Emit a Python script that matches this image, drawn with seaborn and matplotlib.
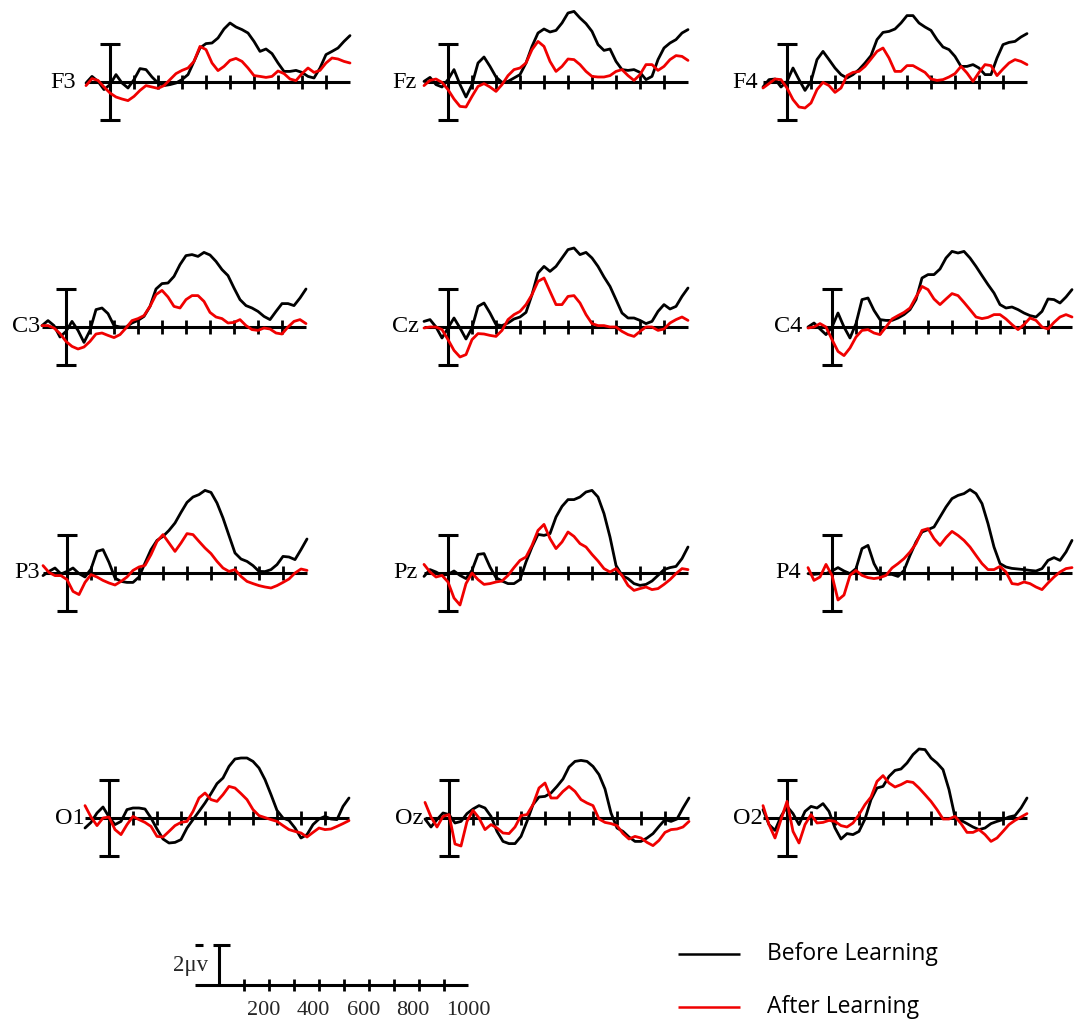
import numpy as np
import pandas as pd
import matplotlib
matplotlib.use("Agg")
import matplotlib.pyplot as plt
import seaborn as sns

# ERP grand averages, uV, sampled every 25 ms from -100 to 1000 ms
times = np.arange(-100, 1001, 25)

f3_before = [-0.05, 0.28, 0.03, -0.38, -0.13, 0.37, -0.05, -0.3, 0.12, 0.67, 0.62, 0.25, -0.05, -0.18, -0.13, -0.05, 0.12, 0.37, 1.03, 1.7, 1.92, 1.95, 2.2, 2.65, 2.95, 2.75, 2.62, 2.45, 2.03, 1.53, 1.65, 1.42, 0.95, 0.53, 0.53, 0.58, 0.48, 0.28, 0.2, 0.7, 1.37, 1.53, 1.7, 2.03, 2.32]
f3_after = [-0.18, 0.17, 0.08, -0.25, -0.55, -0.75, -0.85, -0.93, -0.72, -0.42, -0.18, -0.25, -0.32, -0.18, 0.12, 0.42, 0.58, 0.7, 1.03, 1.78, 1.62, 0.95, 0.57, 0.78, 1.08, 1.18, 1.03, 0.7, 0.32, 0.28, 0.23, 0.28, 0.55, 0.42, 0.15, 0.07, 0.42, 0.7, 0.48, 0.58, 0.95, 1.2, 1.15, 1.03, 0.95]
fz_before = [0.03, 0.23, -0.13, -0.25, 0.12, 0.62, -0.13, -0.75, -0.13, 0.95, 1.25, 0.78, 0.25, -0.02, 0.03, 0.2, 0.37, 0.95, 1.78, 2.45, 2.65, 2.5, 2.58, 2.95, 3.45, 3.53, 3.2, 2.92, 2.53, 1.87, 1.58, 1.65, 1.03, 0.62, 0.58, 0.62, 0.48, 0.12, 0.28, 1.12, 1.7, 1.95, 2.12, 2.45, 2.62]
fz_after = [-0.18, 0.08, 0.15, -0.02, -0.38, -0.85, -1.22, -1.25, -0.72, -0.22, -0.08, -0.25, -0.47, -0.13, 0.32, 0.62, 0.7, 0.95, 1.62, 2.03, 1.78, 1.03, 0.53, 0.78, 1.15, 1.12, 0.87, 0.53, 0.28, 0.25, 0.25, 0.32, 0.53, 0.62, 0.32, 0.08, 0.37, 0.87, 0.87, 0.58, 0.78, 1.12, 1.32, 1.28, 1.08]
f4_before = [-0.25, 0.12, 0.15, -0.25, 0.03, 0.7, 0.12, -0.42, 0.03, 1.12, 1.53, 1.12, 0.7, 0.37, 0.2, 0.37, 0.62, 0.95, 1.32, 2.12, 2.48, 2.53, 2.65, 2.95, 3.32, 3.32, 2.95, 2.75, 2.58, 2.12, 1.75, 1.62, 1.28, 0.78, 0.78, 0.87, 0.7, 0.37, 0.37, 1.2, 1.87, 1.98, 2.03, 2.25, 2.42]
f4_after = [-0.3, -0.08, 0.15, 0.12, -0.3, -0.88, -1.25, -1.3, -1.05, -0.38, -0.02, -0.18, -0.52, -0.3, 0.32, 0.48, 0.53, 0.78, 1.15, 1.53, 1.7, 1.2, 0.53, 0.53, 0.82, 0.82, 0.65, 0.48, 0.15, 0.08, 0.12, 0.25, 0.42, 0.78, 0.45, 0.03, 0.48, 0.87, 0.82, 0.32, 0.65, 0.95, 1.12, 1.03, 0.87]
c3_before = [0.07, 0.32, 0.07, -0.5, -0.22, 0.28, -0.17, -0.77, -0.17, 0.87, 0.95, 0.67, 0.07, 0.0, 0.0, 0.2, 0.33, 0.53, 1.03, 1.9, 2.17, 2.2, 2.53, 3.12, 3.57, 3.62, 3.53, 3.73, 3.6, 3.28, 2.87, 2.57, 1.95, 1.37, 1.07, 0.95, 0.78, 0.53, 0.37, 0.78, 1.17, 1.17, 1.07, 1.45, 1.9]
c3_after = [0.07, 0.07, -0.05, -0.33, -0.72, -0.97, -1.1, -1.0, -0.72, -0.35, -0.3, -0.42, -0.53, -0.38, -0.05, 0.32, 0.42, 0.57, 1.03, 1.62, 1.83, 1.5, 1.03, 0.95, 1.37, 1.57, 1.57, 1.28, 0.73, 0.5, 0.42, 0.2, 0.23, 0.37, 0.07, -0.13, -0.17, -0.05, -0.1, -0.3, -0.35, 0.0, 0.28, 0.37, 0.17]
cz_before = [0.28, 0.37, 0.0, -0.55, -0.05, 0.45, -0.05, -0.6, -0.05, 1.03, 1.2, 0.7, 0.12, 0.07, 0.2, 0.4, 0.5, 0.73, 1.62, 2.7, 3.03, 2.78, 3.03, 3.45, 3.87, 3.95, 3.62, 3.73, 3.45, 3.03, 2.5, 2.03, 1.37, 0.7, 0.45, 0.45, 0.33, 0.17, 0.28, 0.78, 1.12, 0.9, 1.03, 1.53, 1.95]
cz_after = [-0.05, 0.0, 0.0, -0.13, -0.63, -1.17, -1.5, -1.38, -0.63, -0.33, -0.35, -0.42, -0.47, -0.17, 0.37, 0.62, 0.78, 1.12, 1.62, 2.28, 2.45, 1.78, 1.12, 1.12, 1.53, 1.57, 1.2, 0.62, 0.17, 0.07, 0.07, 0.0, 0.0, -0.22, -0.38, -0.47, -0.22, 0.0, 0.0, -0.17, -0.1, 0.2, 0.37, 0.5, 0.33]
c4_before = [0.0, 0.2, -0.1, -0.38, 0.0, 0.7, 0.0, -0.55, 0.17, 1.37, 1.45, 0.83, 0.37, 0.33, 0.33, 0.45, 0.62, 0.87, 1.37, 2.45, 2.62, 2.62, 2.9, 3.45, 3.78, 3.7, 3.78, 3.45, 3.03, 2.57, 2.12, 1.7, 1.12, 0.95, 1.0, 0.87, 0.7, 0.57, 0.5, 0.78, 1.4, 1.37, 1.2, 1.5, 1.87]
c4_after = [-0.05, 0.0, 0.17, 0.0, -0.63, -1.22, -1.43, -1.05, -0.5, -0.17, -0.13, -0.3, -0.38, 0.0, 0.4, 0.57, 0.73, 0.95, 1.5, 2.03, 1.87, 1.4, 1.12, 1.4, 1.67, 1.57, 1.23, 0.87, 0.5, 0.42, 0.48, 0.62, 0.62, 0.4, 0.12, -0.13, 0.12, 0.45, 0.33, 0.0, -0.1, 0.23, 0.5, 0.62, 0.5]
p3_before = [-0.13, 0.08, 0.25, -0.05, 0.08, 0.25, -0.03, -0.2, 0.2, 1.08, 1.17, 0.53, -0.25, -0.42, -0.47, -0.47, -0.2, 0.5, 1.17, 1.63, 1.83, 2.13, 2.5, 3.03, 3.53, 3.8, 3.92, 4.13, 4.03, 3.5, 2.75, 1.87, 1.0, 0.7, 0.58, 0.37, 0.08, 0.07, 0.17, 0.42, 0.83, 0.8, 0.67, 1.17, 1.7]
p3_after = [0.37, 0.03, -0.13, -0.13, -0.33, -0.92, -1.08, -0.47, -0.08, -0.2, -0.37, -0.5, -0.6, -0.42, -0.2, 0.13, 0.3, 0.38, 0.92, 1.58, 1.92, 1.5, 1.08, 1.5, 1.97, 1.92, 1.58, 1.25, 0.97, 0.58, 0.25, 0.08, 0.17, -0.17, -0.42, -0.53, -0.63, -0.7, -0.75, -0.63, -0.47, -0.3, 0.0, 0.2, 0.13]
pz_before = [-0.17, 0.17, 0.05, -0.12, -0.07, 0.1, -0.12, -0.28, 0.13, 0.93, 0.97, 0.3, -0.23, -0.4, -0.53, -0.53, -0.33, 0.55, 1.3, 1.93, 1.88, 1.97, 2.8, 3.33, 3.67, 3.67, 3.8, 4.05, 4.13, 3.8, 2.97, 1.8, 0.38, -0.12, -0.28, -0.53, -0.62, -0.57, -0.4, -0.12, 0.17, 0.27, 0.33, 0.72, 1.3]
pz_after = [0.43, 0.05, -0.2, -0.12, -0.45, -1.25, -1.6, -0.53, 0.0, -0.33, -0.57, -0.53, -0.45, -0.4, -0.12, 0.27, 0.63, 0.8, 1.38, 2.13, 2.43, 1.72, 1.22, 1.55, 2.05, 1.83, 1.47, 1.3, 0.93, 0.6, 0.22, 0.05, 0.22, -0.12, -0.62, -0.87, -0.78, -0.7, -0.83, -0.78, -0.57, -0.33, -0.03, 0.22, 0.17]
p4_before = [-0.03, -0.07, -0.03, -0.03, 0.1, 0.27, 0.1, -0.03, 0.22, 1.22, 1.38, 0.47, -0.08, -0.07, -0.07, -0.17, 0.13, 0.88, 1.55, 2.05, 2.17, 2.3, 2.8, 3.3, 3.72, 3.88, 3.97, 4.17, 3.97, 3.47, 2.47, 1.3, 0.47, 0.3, 0.23, 0.2, 0.17, 0.13, 0.1, 0.22, 0.63, 0.77, 0.63, 1.05, 1.63]
p4_after = [0.27, -0.37, -0.2, 0.43, -0.12, -1.35, -1.1, -0.12, 0.13, -0.12, -0.23, -0.28, -0.23, -0.12, 0.25, 0.47, 0.72, 1.05, 1.47, 2.13, 2.22, 1.72, 1.38, 1.77, 2.08, 1.88, 1.63, 1.3, 0.88, 0.47, 0.17, 0.17, 0.33, 0.05, -0.53, -0.57, -0.45, -0.53, -0.7, -0.83, -0.5, -0.2, 0.05, 0.22, 0.27]
o1_before = [-0.5, -0.22, 0.25, 0.55, 0.05, -0.33, -0.17, 0.42, 0.5, 0.5, 0.45, 0.0, -0.55, -1.05, -1.25, -1.22, -1.08, -0.5, -0.08, 0.33, 0.75, 1.22, 1.72, 2.0, 2.58, 2.95, 3.0, 3.0, 2.83, 2.5, 1.92, 1.17, 0.38, 0.0, -0.12, -0.5, -1.0, -0.83, -0.33, -0.05, 0.08, -0.05, -0.08, 0.58, 1.0]
o1_after = [0.62, 0.05, -0.38, 0.0, 0.05, -0.58, -0.83, -0.33, 0.08, -0.08, -0.22, -0.42, -0.92, -0.95, -0.67, -0.38, -0.22, -0.17, 0.33, 1.0, 1.25, 0.92, 0.83, 1.17, 1.58, 1.5, 1.22, 0.92, 0.42, 0.12, 0.02, -0.08, -0.17, -0.38, -0.58, -0.67, -0.75, -0.95, -0.72, -0.5, -0.58, -0.55, -0.42, -0.28, -0.13]
oz_before = [-0.05, -0.45, -0.08, 0.25, 0.17, -0.25, -0.17, 0.22, 0.45, 0.62, 0.5, 0.08, -0.67, -1.17, -1.28, -1.28, -0.92, -0.17, 0.67, 1.05, 1.08, 1.25, 1.58, 1.95, 2.55, 2.83, 2.88, 2.83, 2.58, 2.17, 1.45, 0.25, -0.5, -0.67, -0.95, -1.17, -1.17, -1.0, -0.78, -0.42, -0.08, -0.17, -0.05, 0.5, 1.0]
oz_after = [0.78, 0.05, -0.45, 0.08, 0.17, -1.3, -1.4, -0.17, 0.38, 0.0, -0.58, -0.33, -0.5, -0.75, -0.78, -0.45, 0.12, 0.17, 0.67, 1.5, 1.75, 1.0, 1.0, 1.33, 1.58, 1.33, 0.92, 0.75, 0.62, -0.05, -0.22, -0.28, -0.38, -0.78, -1.05, -0.92, -1.0, -1.22, -1.38, -1.12, -0.72, -0.58, -0.55, -0.45, -0.17]
o2_before = [0.42, -0.33, -0.62, 0.08, 0.58, 0.22, -0.33, 0.33, 0.58, 0.5, 0.72, 0.33, -0.5, -1.05, -0.78, -0.83, -0.67, -0.05, 0.92, 1.5, 1.58, 2.08, 2.38, 2.45, 2.75, 3.17, 3.45, 3.42, 3.0, 2.75, 2.42, 1.42, 0.05, -0.12, -0.28, -0.45, -0.58, -0.5, -0.28, -0.17, -0.08, 0.05, 0.12, 0.5, 1.0]
o2_after = [0.62, -0.33, -1.0, -0.08, 0.83, -0.67, -1.25, -0.33, 0.17, -0.25, -0.22, -0.12, -0.17, -0.38, -0.45, -0.25, 0.17, 0.67, 1.05, 1.83, 2.12, 1.75, 1.55, 1.67, 1.83, 1.78, 1.5, 1.17, 0.83, 0.42, -0.05, -0.05, 0.08, -0.28, -0.72, -0.72, -0.58, -0.83, -1.17, -1.0, -0.67, -0.33, -0.12, 0.05, 0.22]

electrodes = ['F3', 'Fz', 'F4', 'C3', 'Cz', 'C4', 'P3', 'Pz', 'P4', 'O1', 'Oz', 'O2']
before = {'F3': f3_before, 'Fz': fz_before, 'F4': f4_before,
          'C3': c3_before, 'Cz': cz_before, 'C4': c4_before,
          'P3': p3_before, 'Pz': pz_before, 'P4': p4_before,
          'O1': o1_before, 'Oz': oz_before, 'O2': o2_before}
after = {'F3': f3_after, 'Fz': fz_after, 'F4': f4_after,
         'C3': c3_after, 'Cz': cz_after, 'C4': c4_after,
         'P3': p3_after, 'Pz': pz_after, 'P4': p4_after,
         'O1': o1_after, 'Oz': oz_after, 'O2': o2_after}
conditions = ['Before Learning', 'After Learning']
scale_labels = [200, 400, 600, 800, 1000]

rows = []
for e in electrodes:
    for t, b, a in zip(times, before[e], after[e]):
        rows.append((e, t, 'Before Learning', b))
        rows.append((e, t, 'After Learning', a))
df = pd.DataFrame(rows, columns=['electrode', 'time', 'condition', 'amp'])

# layout in pixels: (x of the 0 ms bar, y of the baseline), label offset in ms
W, H = 1076, 1022
pos = {'F3': (110, 82), 'Fz': (448, 82), 'F4': (787, 82),
       'C3': (66, 327), 'Cz': (448, 327), 'C4': (832, 327),
       'P3': (67, 573), 'Pz': (448, 573), 'P4': (832, 573),
       'O1': (109, 818), 'Oz': (449, 818), 'O2': (787, 818)}
label_x = {'F3': -140, 'Fz': -132, 'F4': -122, 'C3': -106, 'Cz': -122, 'C4': -122,
           'P3': -112, 'Pz': -128, 'P4': -128, 'O1': -100, 'Oz': -106, 'O2': -100}
PX_MS = 0.24   # pixels per ms
PX_UV = 20     # pixels per uV
colors = {'Before Learning': 'black', 'After Learning': '#f00000'}

sns.set_style('white')
plt.rcParams['font.family'] = ['Liberation Serif', 'DejaVu Serif']

fig = plt.figure(figsize=(W / 100, H / 100), dpi=100)

xlo, xhi, ylo, yhi = -110, 1010, -2.5, 4.5
for e in electrodes:
    bx, by = pos[e]
    left = bx + xlo * PX_MS
    top = by - yhi * PX_UV
    w = (xhi - xlo) * PX_MS
    h = (yhi - ylo) * PX_UV
    ax = fig.add_axes([left / W, 1 - (top + h) / H, w / W, h / H])
    ax.axis('off')

    # baseline, ticks and 0 ms bar
    ax.plot([-100, 1000], [0, 0], color='black', lw=2.2, zorder=1, solid_capstyle='butt')
    ax.vlines(np.arange(100, 1000, 100), -0.33, 0.33, color='black', lw=2.0, zorder=1)
    ax.vlines(0, -1.9, 1.9, color='black', lw=2.2, zorder=1)
    ax.hlines([-1.9, 1.9], -42, 42, color='black', lw=2.2, zorder=1)

    sub = df[df['electrode'] == e]
    sns.lineplot(data=sub, x='time', y='amp', hue='condition', hue_order=conditions,
                 palette=colors, estimator=None, legend=False, ax=ax,
                 linewidth=2.0, zorder=3, solid_joinstyle='round')
    ax.set_xlim(xlo, xhi)
    ax.set_ylim(ylo, yhi)
    ax.text(label_x[e], 0, e, ha='right', va='center', fontsize=17.5, color='black')

# scale bar
sx, sy = 219, 985
sxm = 0.25
ax = fig.add_axes([(sx - 150 * sxm) / W, 1 - (sy + 1.8 * PX_UV) / H,
                   1250 * sxm / W, 4.3 * PX_UV / H])
ax.axis('off')
ax.set_xlim(-150, 1100)
ax.set_ylim(-1.8, 2.5)
ax.plot([-96, 996], [0, 0], color='black', lw=2.2, solid_capstyle='butt')
ax.vlines(np.arange(100, 1000, 100), -0.3, 0.3, color='black', lw=2.0)
ax.vlines(0, 0, 2, color='black', lw=2.2)
ax.hlines(2, -24, 44, color='black', lw=2.2)
ax.hlines(2, -96, -64, color='black', lw=2.2)
for v in scale_labels:
    ax.text(v - 90, -1.25, str(v), ha='left', va='center', fontsize=16)
ax.text(-44, 1.0, '2\u03bcv', ha='right', va='center', fontsize=16.5)

# legend
lax = fig.add_axes([0, 0, 1, 1])
lax.axis('off')
lax.set_xlim(0, W)
lax.set_ylim(H, 0)
for cond, y in zip(conditions, [954, 1007]):
    lax.plot([678, 740], [y, y], color=colors[cond], lw=1.8, solid_capstyle='butt')
    lax.text(767, y, cond, ha='left', va='center', fontsize=16.5,
             family=['Open Sans', 'DejaVu Sans'], color='black')

fig.savefig('out.png', dpi=100)
